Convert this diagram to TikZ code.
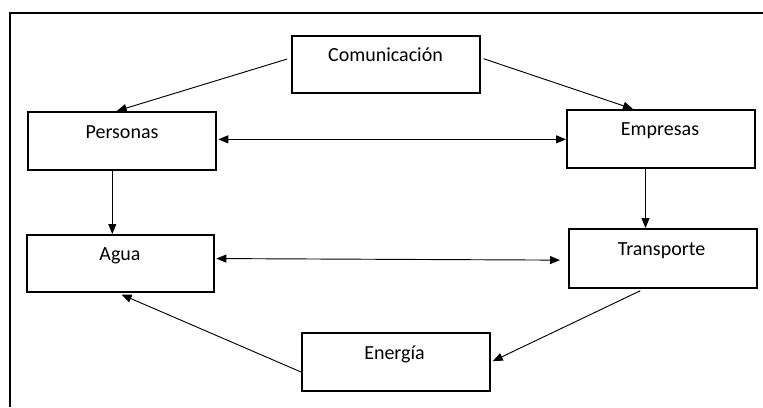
\documentclass[tikz,border=0pt]{standalone}
\usepackage{fontspec}
\setmainfont{Carlito}
\usetikzlibrary{arrows.meta,calc}
\begin{document}
\begin{tikzpicture}[x=0.75pt,y=-0.75pt,
  box/.style={draw,line width=1.5pt,rectangle,inner sep=0pt},
  lbl/.style={font=\fontsize{15}{18}\selectfont,inner sep=0pt,anchor=base},
  tip/.style={Triangle[length=7.5pt,width=6pt]},
  arr/.style={line width=0.7pt,-{Triangle[length=7.5pt,width=6pt]}},
  darr/.style={line width=0.7pt,{Triangle[length=7.5pt,width=6pt]}-{Triangle[length=7.5pt,width=6pt]}}]
\useasboundingbox (0,0) rectangle (763,407);
\draw[line width=1.5pt] (10,407) -- (10,13) -- (763,13);
% boxes
\node[box,minimum width=188*0.75pt,minimum height=57*0.75pt] (com) at (386,64.5) {};
\node[box,minimum width=188*0.75pt,minimum height=58*0.75pt] (per) at (122,141) {};
\node[box,minimum width=188*0.75pt,minimum height=58*0.75pt] (emp) at (661,139) {};
\node[box,minimum width=187*0.75pt,minimum height=57*0.75pt] (agu) at (120.5,263.5) {};
\node[box,minimum width=188*0.75pt,minimum height=59*0.75pt] (tra) at (663,258.5) {};
\node[box,minimum width=188*0.75pt,minimum height=58*0.75pt] (ene) at (396,362) {};
% labels
\node[lbl] (tcom) at (385.5,61) {Comunicación};
\node[lbl] (tper) at (122,138) {Personas};
\node[lbl] (temp) at (660,135) {Empresas};
\node[lbl] (tagu) at (120,260.5) {Agua};
\node[lbl] (ttra) at (661.5,255.5) {Transporte};
\node[lbl] (tene) at (394.5,359) {Energía};
% connectors
\draw[arr,shorten <=3pt] (com.176) -- (per.100);
\draw[arr,shorten <=2pt] (com.4) -- (emp.133);
\draw[darr,shorten <=1pt] (per.1.5) -- (per.1.5 -| emp.west);
\draw[arr] ([xshift=-9.7*0.75pt]per.south) -- ([xshift=-9.7*0.75pt]per.south |- agu.north);
\draw[arr] ([xshift=-15.5*0.75pt]emp.south) -- ([xshift=-15.5*0.75pt]emp.south |- tra.north);
\draw[darr,shorten <=1pt,shorten >=6pt] (agu.3.3) -- (tra.181.2);
\draw[arr,shorten <=3pt,shorten >=1.5pt] (tra.-122) -- (ene.east);
\draw[arr,shorten >=3pt] (ene.186) -- (agu.265);
\end{tikzpicture}
\end{document}
